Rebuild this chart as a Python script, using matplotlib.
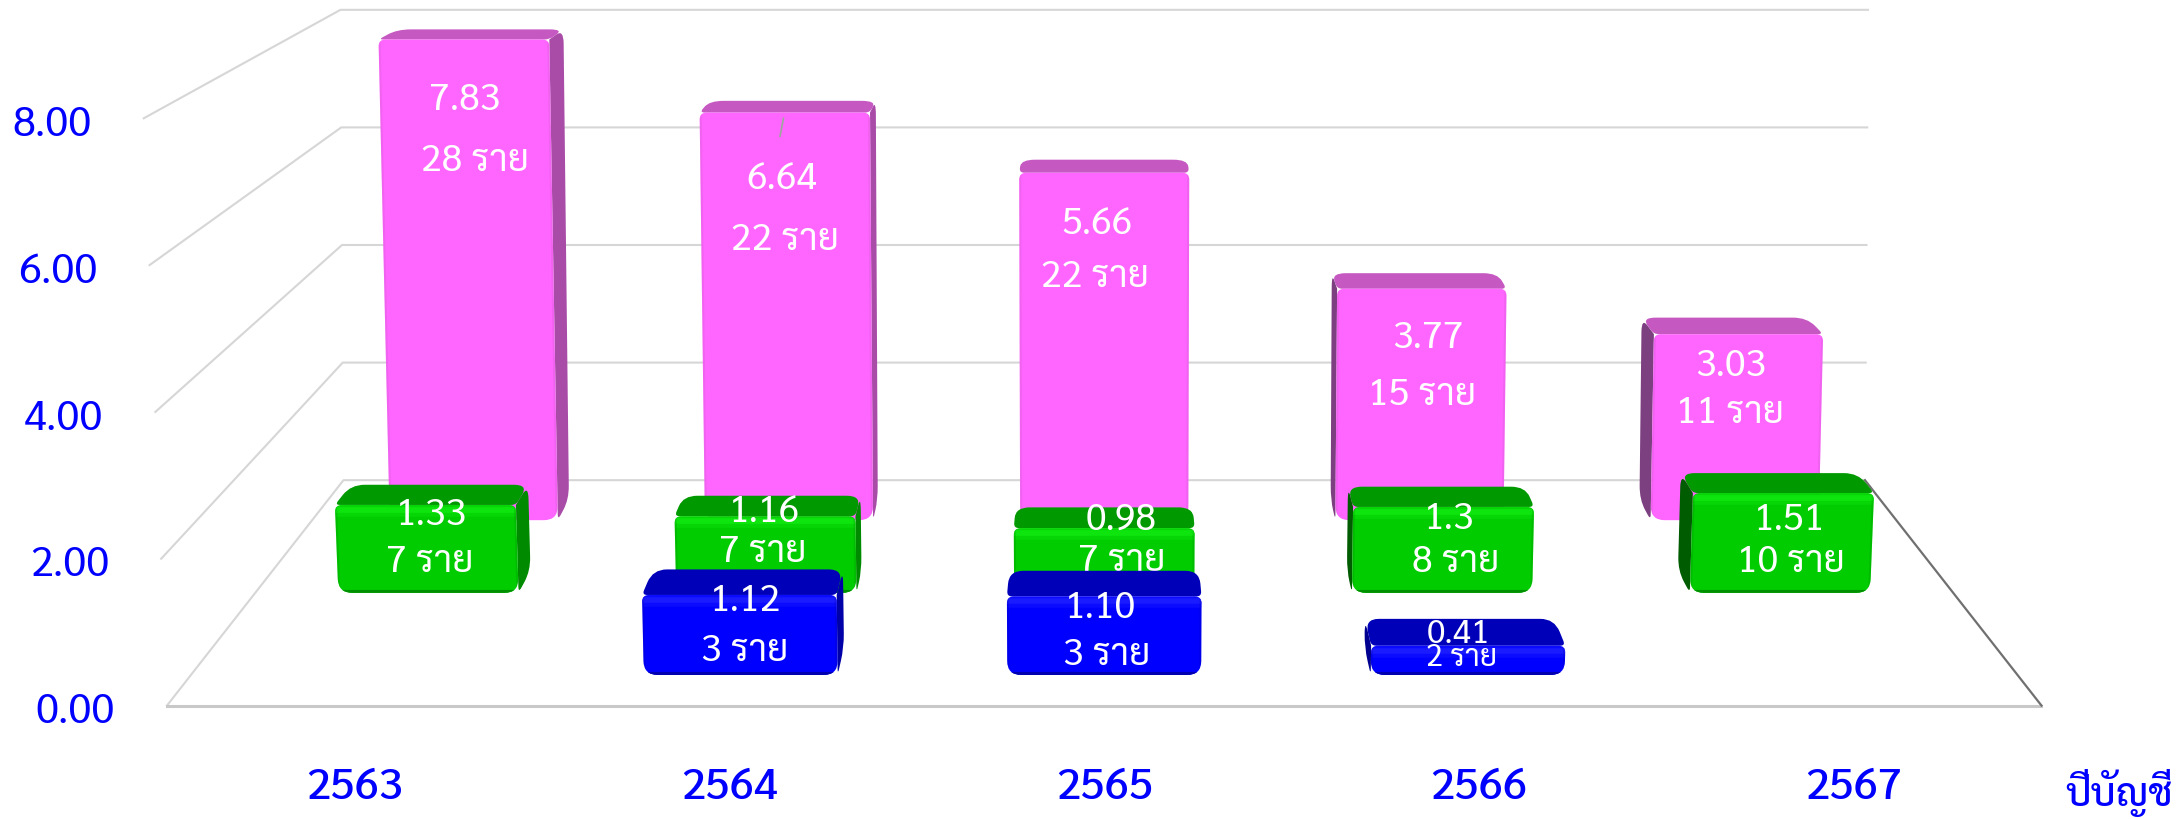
import numpy as np
import matplotlib
matplotlib.use('Agg')
import matplotlib.pyplot as plt
from matplotlib.path import Path
from matplotlib.patches import PathPatch

FONT = ['Sarabun', 'Noto Sans Thai', 'DejaVu Sans']
plt.rcParams['font.family'] = FONT

# ---------- data ----------
years = ['2563', '2564', '2565', '2566', '2567']
y_ticks = [0, 2, 4, 6, 8]
y_ticklabels = ['0.00', '2.00', '4.00', '6.00', '8.00']
x_title = 'ปีบัญชี'
pink_values = [7.83, 6.64, 5.66, 3.77, 3.03]
pink_counts = ['28 ราย', '22 ราย', '22 ราย', '15 ราย', '11 ราย']
pink_texts = ['7.83', '6.64', '5.66', '3.77', '3.03']
green_values = [1.33, 1.16, 0.98, 1.30, 1.51]
green_counts = ['7 ราย', '7 ราย', '7 ราย', '8 ราย', '10 ราย']
green_texts = ['1.33', '1.16', '0.98', '1.3', '1.51']
blue_values = [np.nan, 1.12, 1.10, 0.41, np.nan]
blue_counts = ['', '3 ราย', '3 ราย', '2 ราย', '']
blue_texts = ['', '1.12', '1.10', '0.41', '']

# ---------- scene geometry (pixels of the 2182x819 canvas) ----------
W, H = 2182, 819
Z = 2182 / 1568
CX = 793.5 * Z
HALF = 673.5 * Z
HORIZON = -353 * Z
SPAN = 860 * Z
PERSP = 0.232
SLOT = 2 * HALF / len(years)
BAR_SLOT = SLOT * 0.995
BAR_HALF = 71.5 * Z


def project(X, d, v):
    """X: floor units from centre, d: depth 0 front..1 back, v: value."""
    s = 1 / (1 + PERSP * d)
    g = 0.0031 + 0.0031 * d - 0.0057 * d * d
    unit = (52.75 - 0.7 * d) * Z
    return CX + X * s * (1 + g * v), HORIZON + s * (SPAN - unit * v)


def rounded(pts, radii):
    verts, codes = [], []
    n = len(pts)
    for i in range(n):
        p = np.array(pts[i], float)
        a = np.array(pts[i - 1], float)
        b = np.array(pts[(i + 1) % n], float)
        r = radii[i]
        ra = min(r, np.linalg.norm(a - p) / 2)
        rb = min(r, np.linalg.norm(b - p) / 2)
        p1 = p + (a - p) / max(np.linalg.norm(a - p), 1e-6) * ra
        p2 = p + (b - p) / max(np.linalg.norm(b - p), 1e-6) * rb
        verts.append(p1)
        codes.append(Path.MOVETO if i == 0 else Path.LINETO)
        verts += [p, p2]
        codes += [Path.CURVE3, Path.CURVE3]
    verts.append(verts[0])
    codes.append(Path.CLOSEPOLY)
    return Path(verts, codes)


fig = plt.figure(figsize=(W / 100, H / 100), dpi=100, facecolor='white')
ax = fig.add_axes([0, 0, 1, 1])
ax.set_xlim(0, W)
ax.set_ylim(H, 0)
ax.axis('off')

GRID = '#d6d6d6'
# walls and floor
for t in y_ticks:
    x0, y0 = project(-HALF, 0, t)
    x1, y1 = project(-HALF, 1, t)
    x2, y2 = project(HALF, 1, t)
    ax.plot([x0, x1, x2], [y0, y1, y2], color=GRID, lw=1.5, zorder=1)
xa, ya = project(-HALF, 0, 0)
xb, yb = project(HALF, 0, 0)
xc, yc = project(HALF, 1, 0)
ax.plot([xa, xb], [ya, yb], color='#c8c8c8', lw=2.2, zorder=1)
ax.plot([xb, xc], [yb, yc], color='#707070', lw=1.6, zorder=1)


def draw_bar(i, v, d_front, d_back, front, top, right, left, hi, lo, z):
    Xc = (i - (len(years) - 1) / 2) * BAR_SLOT
    xl, xr = Xc - BAR_HALF, Xc + BAR_HALF
    ftl = project(xl, d_front, v)
    ftr = project(xr, d_front, v)
    fbl = project(xl, d_front, 0)
    fbr = project(xr, d_front, 0)
    btl = project(xl, d_back, v)
    btr = project(xr, d_back, v)
    bbl = project(xl, d_back, 0)
    bbr = project(xr, d_back, 0)
    r = 14
    # only the side that faces the viewer
    if Xc < 0:
        ax.add_patch(PathPatch(rounded([ftr, btr, bbr, fbr], [0, r, r, 6]),
                               fc=right, ec='none', zorder=z))
    if Xc > 0:
        ax.add_patch(PathPatch(rounded([ftl, btl, bbl, fbl], [0, r, r, 6]),
                               fc=left, ec='none', zorder=z))
    # top face
    ax.add_patch(PathPatch(rounded([ftl, ftr, btr, btl], [5, 5, r, r]),
                           fc=top, ec='none', zorder=z + 0.1))
    # front face
    fp = PathPatch(rounded([ftl, ftr, fbr, fbl], [7, 7, r, r]),
                   fc=front, ec='none', zorder=z + 0.2)
    ax.add_patch(fp)
    # bevels, clipped to the front face
    if hi:
        for off, lw, al in ((5, 9, 0.3), (5, 4, 0.6)):
            ln, = ax.plot([ftl[0], ftr[0]], [ftl[1] + off, ftr[1] + off],
                          color=hi, lw=lw, alpha=al, zorder=z + 0.3,
                          solid_capstyle='butt')
            ln.set_clip_path(fp)
    if lo:
        ln, = ax.plot([fbl[0], fbr[0]], [fbl[1] - 1, fbr[1] - 1],
                      color=lo, lw=3, zorder=z + 0.3, solid_capstyle='butt')
        ln.set_clip_path(fp)
    # soft left/right edges on the front
    for a, b in ((ftl, fbl), (ftr, fbr)):
        ln, = ax.plot([a[0], b[0]], [a[1], b[1]], color=lo or top, lw=3,
                      alpha=0.25, zorder=z + 0.3)
        ln.set_clip_path(fp)


def label(x, y, s, z, size=27):
    ax.text(x * Z, y * Z, s, color='white', fontsize=size, ha='center',
            va='center', zorder=z, family=FONT)


# label anchors, in the 1568-wide view of the picture
pink_pos = [[(334, 72), (341, 116)], [(562, 129), (564, 173)], [(788, 161), (787, 199)],
            [(1026, 243), (1022, 284)], [(1244, 263), (1243, 297)]]
green_pos = [[(310, 370), (309, 404)], [(549, 368), (548, 397)], [(806, 374), (806, 403)],
             [(1041, 373), (1046, 404)], [(1286, 374), (1287, 404)]]
blue_pos = [None, [(536, 432), (535, 468)], [(791, 437), (795, 471)],
            [(1048, 456), (1050, 473)], None]

series = [
    (pink_values, pink_texts, pink_counts, pink_pos, 0.79, 0.896,
     dict(front='#FF66FF', top='#C658C2', right='#A94CA8', left='#7C3F80', hi=None, lo=None), 10),
    (green_values, green_texts, green_counts, green_pos, 0.448, 0.547,
     dict(front='#00CC00', top='#009900', right='#008A00', left='#005C00', hi='#14F014', lo='#009000'), 20),
    (blue_values, blue_texts, blue_counts, blue_pos, 0.113, 0.22,
     dict(front='#0000FF', top='#0000B8', right='#0000A8', left='#000090', hi='#2626FF', lo='#0000B0'), 30),
]

for vals, texts, counts, pos, df, db, st, z in series:
    for i, v in enumerate(vals):
        if np.isnan(v):
            continue
        draw_bar(i, v, df, db, z=z, **st)
        small = v < 0.5
        label(*pos[i][0], texts[i], z + 0.5, 24 if small else 27)
        label(*pos[i][1], counts[i], z + 0.5, 22 if small else 27)

# leader line left above the 2564 value label
ax.plot([563 * Z, 560.5 * Z], [85 * Z, 98 * Z], color='#9aa89a', lw=1.2, zorder=10.6)

# axis labels
for t, s in zip(y_ticks, y_ticklabels):
    x, y = project(-HALF, 0, t)
    ax.text(x - 66 * Z, y + 5 * Z, s, color='#0000FF', fontsize=30,
            ha='center', va='center', family=FONT)
for i, s in enumerate(years):
    x, y = project((i - 2) * SLOT, 0, 0)
    ax.text(x, 566 * Z, s, color='#0000FF', fontsize=31.5, ha='center', va='center',
            family=FONT, weight='medium')
ax.text(1523 * Z, 570 * Z, x_title, color='#0000FF', fontsize=28, ha='center',
        va='center', family=FONT, weight='medium')

fig.savefig('out.png', dpi=100, facecolor='white')
